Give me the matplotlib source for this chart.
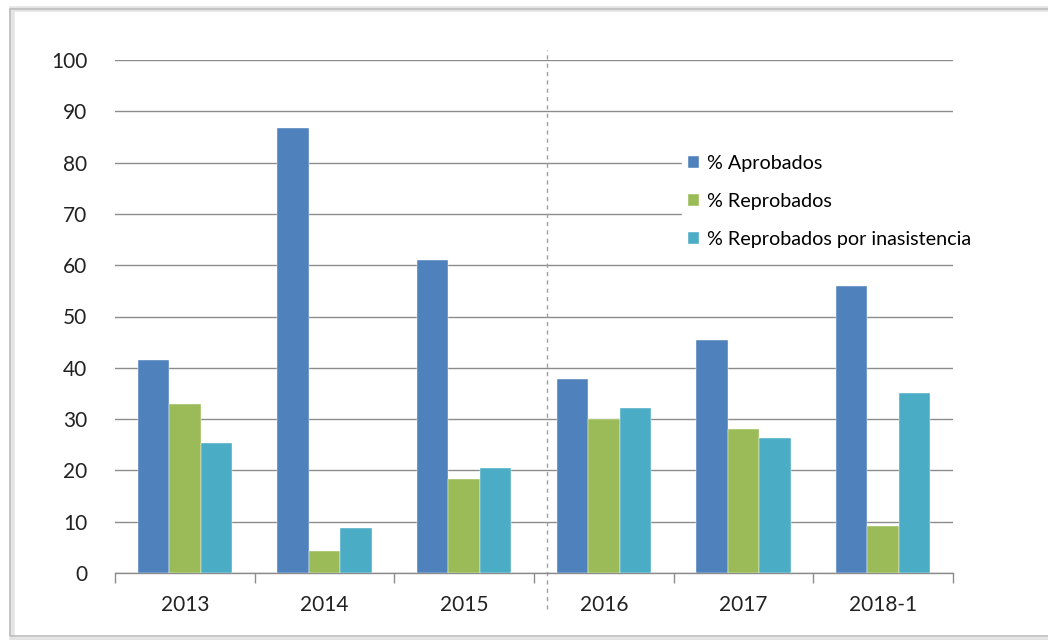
import numpy as np
import matplotlib
matplotlib.use("Agg")
from matplotlib import pyplot as plt
from matplotlib.patches import Rectangle

# data
years = ["2013", "2014", "2015", "2016", "2017", "2018-1"]
aprobados = [41.5, 86.7, 61.0, 37.8, 45.4, 55.9]
reprobados = [33.0, 4.3, 18.3, 30.0, 28.1, 9.2]
inasistencia = [25.3, 8.8, 20.4, 32.2, 26.3, 35.1]
series_names = ["% Aprobados", "% Reprobados", "% Reprobados por inasistencia"]
colors = ["#4F81BD", "#9BBB59", "#4BACC6"]

plt.rcParams["font.family"] = ["Lato", "DejaVu Sans"]

fig = plt.figure(figsize=(10.48, 6.4), dpi=100)
ax = fig.add_axes([115 / 1048, 1 - 573 / 640, (953 - 115) / 1048, (573 - 60) / 640])

# outer frame with a soft shadow
fig.patches.append(Rectangle((12 / 1048, 0.0), 1.2, 631 / 640, transform=fig.transFigure,
                             fill=False, edgecolor="#e4e4e4", linewidth=4, zorder=0))
fig.patches.append(Rectangle((10 / 1048, 4 / 640), 1.2, 627 / 640, transform=fig.transFigure,
                             fill=False, edgecolor="#bdbdbd", linewidth=1.2, zorder=1))

x = np.arange(len(years))
w = 0.225
for i, (vals, name) in enumerate(zip([aprobados, reprobados, inasistencia], series_names)):
    ax.bar(x + (i - 1) * w, vals, w, color=colors[i], label=name, zorder=3,
           edgecolor="white", linewidth=0.3)

ax.set_xlim(-0.5, len(years) - 0.5)
ax.set_ylim(0, 100)
ax.set_yticks(np.arange(0, 101, 10))
ax.yaxis.grid(True, color="#8c8c8c", linewidth=1.0, zorder=0)
ax.set_axisbelow(True)

ax.set_xticks(x)
ax.set_xticklabels(years)
ax.set_xticks(np.arange(-0.5, len(years), 1.0), minor=True)
ax.tick_params(axis="x", which="major", length=0, pad=16, labelsize=15, colors="#222222")
ax.tick_params(axis="x", which="minor", length=7, color="#8c8c8c", width=1)
ax.tick_params(axis="y", length=0, pad=20, labelsize=15, colors="#222222")

for s in ["top", "right", "left"]:
    ax.spines[s].set_visible(False)
ax.spines["bottom"].set_color("#8c8c8c")
ax.spines["bottom"].set_linewidth(1.0)

# dashed separator between 2015 and 2016
ax.axvline(2.59, ymin=-0.07, ymax=1.02, color="#a0a0a0", linestyle=(0, (3, 3)),
           linewidth=1.0, clip_on=False, zorder=2)

leg = ax.legend(loc="upper left", bbox_to_anchor=(0.677, 0.826), frameon=True,
                fontsize=14.2, handlelength=0.55, handleheight=0.55, handletextpad=0.4,
                labelspacing=1.05, borderpad=0.3, borderaxespad=0)
leg.get_frame().set_facecolor("white")
leg.get_frame().set_edgecolor("white")
leg.get_frame().set_alpha(1)
leg.set_zorder(5)

fig.savefig("out.png", dpi=100)
